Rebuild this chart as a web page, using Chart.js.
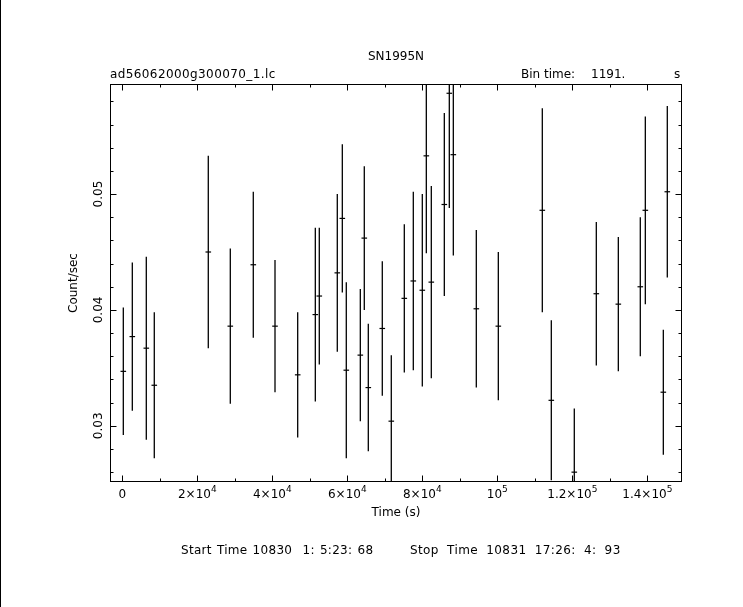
<!DOCTYPE html>
<html><head><meta charset="utf-8">
<script src="https://cdn.jsdelivr.net/npm/chart.js@4/dist/chart.umd.min.js"></script>
<style>html,body{margin:0;padding:0;background:#fff;}canvas{display:block;}</style>
</head><body>
<canvas id="c" width="743" height="607"></canvas>
<script>
// ---- data ----
const timeSec = [270, 2670, 6400, 8530, 22930, 28800, 34930, 40720, 46770, 51470,
  52530, 57330, 58670, 59730, 63470, 64530, 65600, 69330, 71730, 75200,
  77600, 80000, 81070, 82400, 85870, 87200, 88270, 94400, 100270, 112000,
  114400, 120530, 126400, 132270, 138130, 139470, 144270, 145330];
const countRate = [0.0347, 0.0377, 0.0367, 0.0335, 0.0450, 0.0386, 0.0439, 0.0386, 0.0344, 0.0396,
  0.0412, 0.0432, 0.0479, 0.0348, 0.0361, 0.0462, 0.0333, 0.0384, 0.0304, 0.0410,
  0.0425, 0.0417, 0.0533, 0.0424, 0.0491, 0.0587, 0.0534, 0.0401, 0.0386, 0.0486,
  0.0322, 0.0260, 0.0414, 0.0405, 0.0420, 0.0486, 0.0329, 0.0502];
const rateError = [0.0055, 0.0064, 0.0079, 0.0063, 0.0083, 0.0067, 0.0063, 0.0057, 0.0054, 0.0075,
  0.0059, 0.0068, 0.0064, 0.0076, 0.0057, 0.0062, 0.0055, 0.0058, 0.0057, 0.0064,
  0.0077, 0.0083, 0.0084, 0.0083, 0.0079, 0.0099, 0.0087, 0.0068, 0.0064, 0.0088,
  0.0069, 0.0055, 0.0062, 0.0058, 0.0060, 0.0081, 0.0054, 0.0074];

const xMajorTicks = [0, 20000, 40000, 60000, 80000, 100000, 120000, 140000];
const xTickLabels = ['0', '2×10^4', '4×10^4', '6×10^4', '8×10^4', '10^5', '1.2×10^5', '1.4×10^5'];
const xMinorTicks = [10000, 30000, 50000, 70000, 90000, 110000, 130000];
const yMajorTicks = [0.03, 0.04, 0.05];
const yTickLabels = ['0.03', '0.04', '0.05'];
const yMinorTicks = [0.026, 0.028, 0.032, 0.034, 0.036, 0.038, 0.042, 0.044, 0.046, 0.048,
  0.052, 0.054, 0.056, 0.058];

const titleText = 'SN1995N';
const fileLabel = 'ad56062000g300070_1.lc';
const binLabels = ['Bin time:', '1191.', 's'];
const xAxisTitle = 'Time (s)';
const yAxisTitle = 'Count/sec';
const footerParts = ['Start Time 10830  1: 5:23: 68', 'Stop Time 10831 17:26: 4: 93'];

// ---- build datasets ----
const errBars = timeSec.map((t, i) => ({x: t, y: [countRate[i] - rateError[i], countRate[i] + rateError[i]]}));
const centers = timeSec.map((t, i) => ({x: t, y: countRate[i]}));

const FONT = '"DejaVu Sans", sans-serif';

const decor = {
  id: 'decor',
  afterDraw(chart) {
    const {ctx, chartArea: a, scales: {x, y}} = chart;
    ctx.save();
    ctx.fillStyle = '#000';
    ctx.strokeStyle = '#000';
    ctx.lineWidth = 1;
    // page edge line
    ctx.fillRect(0, 0, 1, chart.height);
    // frame
    ctx.strokeRect(a.left + 0.5, a.top + 0.5, a.right - a.left - 1, a.bottom - a.top - 1);
    // ticks
    const MAJ = 6.5, MIN = 3.5;
    ctx.beginPath();
    const xt = (v, len) => {
      const p = Math.round(x.getPixelForValue(v)) + 0.5;
      ctx.moveTo(p, a.bottom); ctx.lineTo(p, a.bottom - len);
      ctx.moveTo(p, a.top); ctx.lineTo(p, a.top + len);
    };
    const yt = (v, len) => {
      const p = Math.round(y.getPixelForValue(v)) + 0.5;
      ctx.moveTo(a.left, p); ctx.lineTo(a.left + len, p);
      ctx.moveTo(a.right, p); ctx.lineTo(a.right - len, p);
    };
    xMajorTicks.forEach(v => xt(v, MAJ));
    xMinorTicks.forEach(v => xt(v, MIN));
    yMajorTicks.forEach(v => yt(v, MAJ));
    yMinorTicks.forEach(v => yt(v, MIN));
    ctx.stroke();

    // x tick labels with exponents
    const baseFont = '12px ' + FONT, expFont = '9px ' + FONT;
    ctx.textBaseline = 'alphabetic';
    xMajorTicks.forEach((v, i) => {
      const [b, e] = xTickLabels[i].split('^');
      ctx.font = baseFont; const wb = ctx.measureText(b).width;
      let we = 0;
      if (e) { ctx.font = expFont; we = ctx.measureText(e).width; }
      const px = x.getPixelForValue(v);
      let sx = px - (wb + we) / 2;
      ctx.font = baseFont; ctx.textAlign = 'left';
      ctx.fillText(b, sx, 498);
      if (e) { ctx.font = expFont; ctx.fillText(e, sx + wb, 492); }
    });

    // y tick labels (rotated)
    ctx.font = baseFont;
    ctx.textAlign = 'center';
    yMajorTicks.forEach((v, i) => {
      const py = y.getPixelForValue(v);
      ctx.save();
      ctx.translate(101.5, py);
      ctx.rotate(-Math.PI / 2);
      ctx.fillText(yTickLabels[i], 0, 0);
      ctx.restore();
    });
    // y axis title
    ctx.save();
    ctx.translate(76.5, (a.top + a.bottom) / 2);
    ctx.rotate(-Math.PI / 2);
    ctx.fillText(yAxisTitle, 0, 0);
    ctx.restore();

    // x axis title
    ctx.textAlign = 'center';
    ctx.fillText(xAxisTitle, (a.left + a.right) / 2, 516);
    // title
    ctx.fillText(titleText, (a.left + a.right) / 2, 60);
    // header labels
    ctx.textAlign = 'left';
    ctx.letterSpacing = '0.4px';
    ctx.fillText(fileLabel, 110, 78);
    ctx.letterSpacing = '0px';
    ctx.fillText(binLabels[0], 521, 78);
    ctx.fillText(binLabels[1], 591, 78);
    ctx.fillText(binLabels[2], 674, 78);
    // footer
    ctx.letterSpacing = '0.3px';
    ctx.wordSpacing = '1px';
    ctx.fillText(footerParts[0], 181, 554);
    ctx.letterSpacing = '0.4px';
    ctx.wordSpacing = '4px';
    ctx.fillText(footerParts[1], 410, 554);
    ctx.restore();
  }
};

new Chart(document.getElementById('c'), {
  type: 'bar',
  data: {
    datasets: [
      {
        type: 'bar',
        data: errBars,
        backgroundColor: '#000',
        borderWidth: 0,
        barThickness: 1.3,
        inflateAmount: 0,
        grouped: false,
        clip: 0
      },
      {
        type: 'scatter',
        data: centers,
        pointStyle: 'line',
        pointRadius: 2.8,
        borderColor: '#000',
        borderWidth: 1.2,
        showLine: false,
        clip: 0
      }
    ]
  },
  options: {
    responsive: false,
    animation: false,
    devicePixelRatio: 1,
    layout: {padding: {left: 110, top: 84, right: 61, bottom: 125}},
    plugins: {legend: {display: false}, tooltip: {enabled: false}, title: {display: false}},
    scales: {
      x: {type: 'linear', min: -3280, max: 149250, display: false, offset: false},
      y: {type: 'linear', min: 0.02515, max: 0.0595, display: false}
    }
  },
  plugins: [decor]
});
</script>
</body></html>
